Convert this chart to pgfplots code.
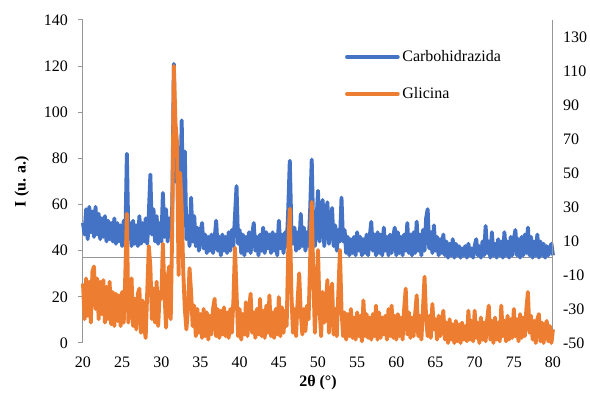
\documentclass[border=0pt]{standalone}
\usepackage{pgfplots}
\pgfplotsset{compat=1.18}
\usepackage{pgfplotstable}
\usepackage{fontspec}
\setmainfont{Liberation Serif}
\definecolor{cblue}{RGB}{68,114,196}
\definecolor{corange}{RGB}{237,125,49}
\definecolor{axgray}{RGB}{150,150,150}

\pgfplotstableread{
x y
20.0 52
20.2 47
20.4 58
20.6 45
20.8 59
21.0 48
21.2 57
21.4 46
21.6 59
21.8 47
22.0 56
22.2 45
22.4 54
22.6 46
22.8 55
23.0 44
23.2 53
23.4 45
23.6 52
23.8 44
24.0 54
24.2 43
24.4 52
24.6 44
24.8 51
25.0 42
25.2 53
25.4 44
25.6 82
25.8 45
26.0 52
26.2 42
26.4 53
26.6 43
26.8 51
27.0 42
27.2 55
27.4 43
27.6 52
27.8 44
28.0 54
28.2 43
28.4 56
28.6 73
28.8 47
29.0 58
29.2 44
29.4 55
29.6 43
29.8 52
30.0 44
30.2 65
30.4 46
30.6 58
30.8 44
31.0 54
31.2 46
31.4 60
31.6 121
31.8 70
32.0 87
32.2 52
32.4 60
32.6 96.5
32.8 55
33.0 83
33.2 45
33.4 55
33.6 42
33.8 63
34.0 44
34.2 55
34.4 42
34.6 50
34.8 40
35.0 48
35.2 52
35.4 41
35.6 47
35.8 39
36.0 46
36.2 40
36.4 47
36.6 39
36.8 45
37.0 53
37.2 40
37.4 46
37.6 38
37.8 47
38.0 40
38.2 46
38.4 39
38.6 48
38.8 40
39.0 49
39.2 42
39.4 55
39.6 68
39.8 43
40.0 49
40.2 39
40.4 47
40.6 38
40.8 46
41.0 40
41.2 48
41.4 39
41.6 47
41.8 52
42.0 40
42.2 46
42.4 38
42.6 47
42.8 40
43.0 50
43.2 39
43.4 48
43.6 41
43.8 47
44.0 39
44.2 48
44.4 40
44.6 47
44.8 38
45.0 53
45.2 41
45.4 47
45.6 39
45.8 48
46.0 42
46.2 58
46.4 79
46.6 50
46.8 43
47.0 50
47.2 40
47.4 48
47.6 41
47.8 56
48.0 42
48.2 50
48.4 40
48.6 48
48.8 42
49.0 58
49.2 79.5
49.4 48
49.6 42
49.8 52
50.0 66
50.2 44
50.4 52
50.6 62
50.8 42
51.0 55
51.2 61
51.4 43
51.6 50
51.8 58.5
52.0 42
52.2 51
52.4 40
52.6 49
52.8 44
53.0 63
53.2 44
53.4 49
53.6 39
53.8 46
54.0 38
54.2 45
54.4 39
54.6 46
54.8 38
55.0 48
55.2 40
55.4 46
55.6 38
55.8 45
56.0 39
56.2 47
56.4 38
56.6 46
56.8 52.5
57.0 40
57.2 47
57.4 38
57.6 48
57.8 39
58.0 47
58.2 38
58.4 50
58.6 40
58.8 46
59.0 38
59.2 47
59.4 39
59.6 46
59.8 50
60.0 38
60.2 48
60.4 39
60.6 46
60.8 38
61.0 47
61.2 40
61.4 52
61.6 39
61.8 47
62.0 38
62.2 48
62.4 39
62.6 52.6
62.8 40
63.0 47
63.2 38
63.4 49
63.6 40
63.8 54
64.0 58
64.2 41
64.4 48
64.6 39
64.8 51
65.0 40
65.2 46
65.4 38
65.6 45
65.8 39
66.0 47
66.2 38
66.4 44
66.6 37
66.8 43
67.0 38
67.2 45
67.4 37
67.6 43
67.8 38
68.0 42
68.2 37
68.4 41
68.6 38
68.8 42
69.0 37
69.2 43
69.4 38
69.6 41
69.8 37
70.0 42
70.2 45
70.4 38
70.6 42
70.8 37
71.0 44
71.2 38
71.4 50.7
71.6 39
71.8 44
72.0 37
72.2 48
72.4 38
72.6 43
72.8 37
73.0 45
73.2 38
73.4 44
73.6 37
73.8 48
74.0 38
74.2 44
74.4 37
74.6 46
74.8 38
75.0 45
75.2 49
75.4 38
75.6 45
75.8 37
76.0 46
76.2 38
76.4 47
76.6 39
76.8 50
77.0 38
77.2 46
77.4 37
77.6 44
77.8 38
78.0 47
78.2 37
78.4 44
78.6 38
78.8 43
79.0 37
79.2 42
79.4 38
79.6 41
79.8 43
80.0 38
}\carbo

\pgfplotstableread{
x y
20.0 -15
20.2 -36
20.4 -12
20.6 -34
20.8 -14
21.0 -38
21.2 -8
21.4 -5
21.6 -30
21.8 -12
22.0 -36
22.2 -14
22.4 -33
22.6 -13
22.8 -38
23.0 -17
23.2 -36
23.4 -14
23.6 -39
23.8 -20
24.0 -40
24.2 -21
24.4 -37
24.6 -22
24.8 -40
25.0 -20
25.2 -38
25.4 -10
25.6 26
25.8 -38
26.0 -16
26.2 -12
26.4 -40
26.6 -24
26.8 -42
27.0 -21
27.2 -18
27.4 -44
27.6 -25
27.8 -40
28.0 -47
28.2 -20
28.4 7
28.6 -5
28.8 -36
29.0 -18
29.2 -38
29.4 -14
29.6 -40
29.8 -20
30.0 -24
30.2 8.4
30.4 -20
30.6 -41
30.8 -12
31.0 -5
31.2 -36
31.4 20
31.6 113
31.8 80
32.0 68
32.2 -10
32.4 50
32.6 30
32.8 -8
33.0 -30
33.2 -42
33.4 -30
33.6 -6
33.8 -20
34.0 -40
34.2 -28
34.4 -46
34.6 -30
34.8 -44
35.0 -33
35.2 -47
35.4 -30
35.6 -46
35.8 -32
36.0 -48
36.2 -34
36.4 -45
36.6 -30
36.8 -24
37.0 -46
37.2 -30
37.4 -47
37.6 -31
37.8 -45
38.0 -29
38.2 -46
38.4 -32
38.6 -47
38.8 -30
39.0 -44
39.2 -25
39.4 6
39.6 -20
39.8 -46
40.0 -30
40.2 -48
40.4 -33
40.6 -45
40.8 -26
41.0 -46
41.2 -30
41.4 -21
41.6 -44
41.8 -32
42.0 -47
42.2 -30
42.4 -45
42.6 -24
42.8 -46
43.0 -31
43.2 -47
43.4 -28
43.6 -44
43.8 -22
44.0 -46
44.2 -32
44.4 -47
44.6 -30
44.8 -45
45.0 -23
45.2 -46
45.4 -29
45.6 -44
45.8 -31
46.0 -40
46.2 5
46.4 29
46.6 -20
46.8 -44
47.0 -30
47.2 -46
47.4 -25
47.6 -9
47.8 -32
48.0 -45
48.2 -30
48.4 -43
48.6 -28
48.8 -36
49.0 0
49.2 33
49.4 -10
49.6 -44
49.8 -22
50.0 4.7
50.2 -30
50.4 -46
50.6 -20
50.8 -38
51.0 -28
51.2 -13
51.4 -44
51.6 -28
51.8 -15
52.0 -45
52.2 -30
52.4 -46
52.6 -20
52.8 4.7
53.0 -30
53.2 -46
53.4 -32
53.6 -48
53.8 -33
54.0 -46
54.2 -30
54.4 -47
54.6 -35
54.8 -48
55.0 -32
55.2 -46
55.4 -34
55.6 -49
55.8 -25
56.0 -46
56.2 -33
56.4 -47
56.6 -35
56.8 -48
57.0 -33
57.2 -46
57.4 -28
57.6 -48
57.8 -32
58.0 -47
58.2 -35
58.4 -45
58.6 -34
58.8 -48
59.0 -30
59.2 -46
59.4 -28
59.6 -47
59.8 -34
60.0 -48
60.2 -33
60.4 -46
60.6 -35
60.8 -48
61.0 -30
61.2 -18
61.4 -45
61.6 -32
61.8 -47
62.0 -35
62.2 -46
62.4 -33
62.6 -22
62.8 -46
63.0 -34
63.2 -48
63.4 -30
63.6 -11
63.8 -35
64.0 -46
64.2 -34
64.4 -47
64.6 -27
64.8 -42
65.0 -36
65.2 -48
65.4 -34
65.6 -46
65.8 -37
66.0 -31
66.2 -48
66.4 -38
66.6 -50
66.8 -36
67.0 -48
67.2 -39
67.4 -50
67.6 -37
67.8 -49
68.0 -39
68.2 -50
68.4 -38
68.6 -48
68.8 -40
69.0 -49
69.2 -31
69.4 -48
69.6 -37
69.8 -49
70.0 -31
70.2 -47
70.4 -38
70.6 -50
70.8 -35
71.0 -48
71.2 -38
71.4 -49
71.6 -36
71.8 -28
72.0 -48
72.2 -37
72.4 -50
72.6 -35
72.8 -48
73.0 -38
73.2 -49
73.4 -28
73.6 -46
73.8 -37
74.0 -49
74.2 -34
74.4 -48
74.6 -36
74.8 -47
75.0 -30
75.2 -46
75.4 -36
75.6 -49
75.8 -33
76.0 -47
76.2 -35
76.4 -46
76.6 -30
76.8 -20
77.0 -44
77.2 -34
77.4 -48
77.6 -37
77.8 -50
78.0 -36
78.2 -33
78.4 -49
78.6 -38
78.8 -50
79.0 -40
79.2 -37
79.4 -49
79.6 -40
79.8 -50
80.0 -42
}\glicina

\begin{document}
\begin{tikzpicture}
\path[use as bounding box] (-62.25pt,-37.5pt) rectangle (380.25pt,257.25pt);
\pgfplotsset{
  common/.style={
    scale only axis, width=352.5pt, height=242.25pt,
    at={(0pt,0pt)}, anchor=south west,
    xmin=20, xmax=80,
    tick label style={font=\fontsize{12}{14}\selectfont},
    label style={font=\fontsize{12}{14}\selectfont\bfseries},
    /pgf/number format/assume math mode=true,
    clip=false,
  }
}
\begin{axis}[common,
  ymin=0, ymax=140, ytick={0,20,...,140},
  xtick={20,25,...,80},
  axis x line*=bottom, axis y line*=left,
  x axis line style={draw=none},
  y axis line style={axgray, line width=0.75pt, -},
  xtick style={draw=none},
  ytick style={axgray, line width=0.75pt},
  tick align=outside, major tick length=3.75pt,
  xlabel={2θ (°)}, ylabel={I (u. a.)},
  xlabel style={at={(axis description cs:0.5,-0.124)}, anchor=center},
  ylabel style={at={(axis description cs:-0.13,0.5)}, anchor=center},
  xticklabel style={yshift=-3pt},
  yticklabel style={xshift=-4pt},
]
\draw[axgray, line width=0.75pt] (axis cs:20,36.842) -- (axis cs:80,36.842);
\addplot[cblue, line width=2.9pt, line join=round] table[x=x,y=y]{\carbo};
\end{axis}
\begin{axis}[common,
  ymin=-50, ymax=140, ytick={-50,-30,...,130},
  axis x line=none, axis y line*=right,
  y axis line style={axgray, line width=0.75pt, -},
  ytick style={draw=none}, major tick length=0pt,
  yticklabel style={xshift=4pt},
  legend style={at={(0.557,0.915)}, anchor=north west, draw=none, fill=none,
    inner sep=0pt, row sep=14pt, font=\fontsize{12}{14}\selectfont},
  legend cell align=left,
  legend image code/.code={\draw[#1, line width=3pt, line cap=round] (0pt,0pt) -- (38pt,0pt);},
]
\addlegendimage{cblue}
\addlegendentry{Carbohidrazida}
\addplot[corange, line width=2.9pt, line join=round] table[x=x,y=y]{\glicina};
\addlegendentry{Glicina}
\end{axis}
\end{tikzpicture}
\end{document}
